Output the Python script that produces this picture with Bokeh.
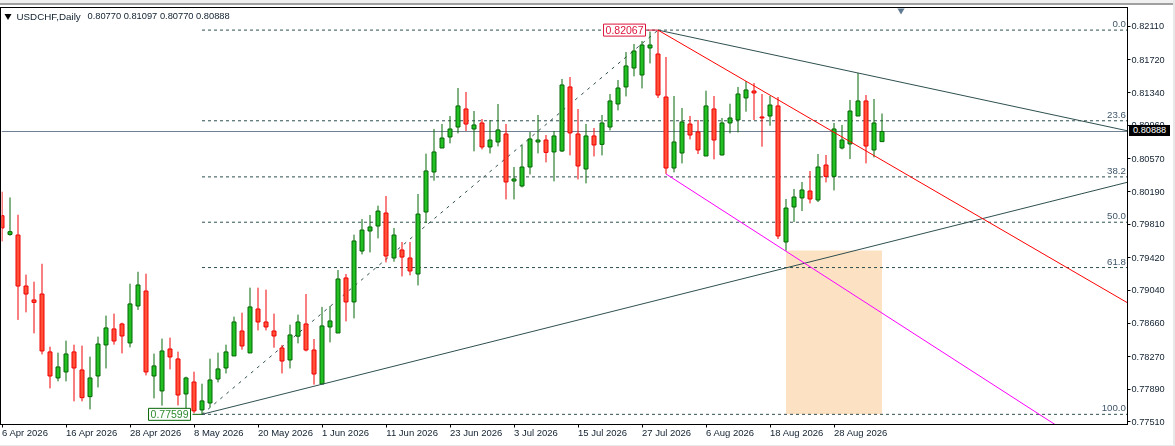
from bokeh.plotting import figure
from bokeh.embed import file_html
from bokeh.resources import INLINE
from bokeh.layouts import column
from bokeh.models import (ColumnDataSource, Range1d, FixedTicker, LinearAxis, Label, Div,
                          PrintfTickFormatter)
from bokeh.core.properties import value

open_ = [.79909,.79691,.79684,.79091,.78929,.78998,.78325,.78022,.78092,.78325,
         .78115,.77805,.78045,.78406,.78592,.78650,.78429,.78859,.79033,.78045,
         .77871,.78359,.78243,.77836,.77975,.77650,.77731,.78010,.78138,.78278,
         .78568,.78313,.78824,.78673,.78568,.78371,.78231,.78508,.78650,.78347,
         .77952,.78615,.78545,.79185,.78906,.79498,.79731,.79789,.79940,.79417,
         .79510,.79417,.79231,.79952,.80417,.80696,.80824,.80940,.81150,.80917,
         .80987,.80708,.80766,.80859,.80312,.80254,.80475,.80766,.80789,.80650,
         .80661,.81406,.80859,.80452,.80836,.80738,.80940,.81208,.81406,.81626,
         .81545,.81859,.81789,.81289,.80463,.80638,.80975,.80882,.80603,.81150,
         .80615,.80987,.81022,.81278,.81359,.81057,.81068,.81185,.79603,.80010,
         .80115,.80196,.80091,.80498,.80366,.80696,.80743,.81068,.81243,.80673,
         .80770]
high = [.80188,.80121,.79920,.79223,.79141,.79350,.78386,.78316,.78456,.78409,
        .78398,.78270,.78502,.78747,.78770,.78665,.79118,.79257,.79234,.78305,
        .78479,.78491,.78328,.78037,.78095,.77955,.78246,.78316,.78409,.78735,
        .78781,.79072,.79072,.79049,.78770,.78406,.78642,.78758,.78998,.78475,
        .78848,.78859,.79277,.79231,.79688,.79870,.79917,.80025,.80138,.79766,
        .79603,.79603,.80161,.80630,.80917,.80975,.81068,.81394,.81347,.81126,
        .81033,.81022,.81208,.80975,.80475,.80731,.80882,.81080,.80847,.80894,
        .81499,.81522,.81150,.80975,.80929,.81080,.81324,.81487,.81812,.81905,
        .81940,.82050,.82067,.81754,.81301,.81161,.81068,.81022,.81362,.81301,
        .81045,.81211,.81406,.81475,.81452,.81324,.81301,.81289,.80103,.80219,
        .80301,.80429,.80626,.80615,.80987,.80964,.81254,.81568,.81312,.81266,
        .81097]
low = [.79610,.79676,.78697,.78785,.78541,.78296,.77901,.77983,.77983,.77750,
       .77750,.77657,.77912,.78133,.78409,.78308,.78378,.78813,.78052,.77785,
       .77700,.78122,.77703,.77661,.77611,.77599,.77680,.77971,.78075,.78278,
       .78351,.78313,.78575,.78575,.78374,.78075,.78133,.78424,.78331,.77944,
       .77952,.78436,.78545,.78680,.78715,.79459,.79482,.79645,.79366,.79374,
       .79203,.79215,.79098,.79824,.80316,.80696,.80750,.80866,.80894,.80657,
       .80680,.80633,.80715,.80098,.80098,.80238,.80389,.80633,.80529,.80308,
       .80650,.80610,.80331,.80285,.80598,.80610,.80901,.81133,.81296,.81529,
       .81389,.81680,.81278,.80394,.80413,.80517,.80796,.80626,.80603,.80564,
       .80610,.80866,.80878,.81118,.81022,.80711,.80955,.79638,.79502,.79836,
       .79963,.80052,.80068,.80296,.80203,.80680,.80568,.81068,.80517,.80587,
       .80770]
close = [.79766,.79723,.79091,.78998,.78901,.78336,.78045,.78150,.78301,.78138,
         .77793,.78022,.78417,.78604,.78452,.78510,.78883,.79103,.78092,.78162,
         .78336,.78266,.77824,.78022,.77639,.77755,.77999,.78127,.78325,.78673,
         .78394,.78848,.78673,.78615,.78510,.78219,.78522,.78673,.78347,.78068,
         .78627,.78685,.79173,.78906,.79615,.79742,.79778,.79963,.79440,.79684,
         .79428,.79266,.79928,.80429,.80650,.80812,.80917,.81185,.80975,.80964,
         .80708,.80789,.80906,.80301,.80336,.80475,.80801,.80789,.80645,.80836,
         .81429,.80871,.80487,.80836,.80731,.80987,.81243,.81394,.81650,.81824,
         .81894,.81894,.81312,.80463,.80766,.80999,.80847,.80673,.81185,.80789,
         .80987,.81045,.81324,.81371,.81336,.81045,.81196,.79673,.79998,.80126,
         .80208,.80103,.80475,.80366,.80917,.80789,.81126,.81243,.80719,.80987,
         .80888]

x_tick_pos = [0, 8, 16, 24, 32, 40, 48, 56, 64, 72, 80, 88, 96, 104]
x_tick_labels = ["6 Apr 2026", "16 Apr 2026", "28 Apr 2026", "8 May 2026", "20 May 2026",
                 "1 Jun 2026", "11 Jun 2026", "23 Jun 2026", "3 Jul 2026", "15 Jul 2026",
                 "27 Jul 2026", "6 Aug 2026", "18 Aug 2026", "28 Aug 2026"]
y_ticks = [.82110, .81720, .81340, .80960, .80570, .80190, .79810, .79420,
           .79040, .78660, .78270, .77890, .77510]

swing_low_bar, swing_low = 25, .77599
swing_high_bar, swing_high = 82, .82067
fib_names = ["0.0", "23.6", "38.2", "50.0", "61.8", "100.0"]
fib_pct = [0.0, 23.6, 38.2, 50.0, 61.8, 100.0]
last_price = .80888

FONT = "Liberation Sans"
DARK = "#2F4F4F"
SCALE = 8600.0
DATE_SIZE = 9.5
EM = {" ": .278, "A": .667, "p": .556, "r": .333, "M": .833, "a": .556, "y": .5, "J": .5,
      "u": .556, "n": .556, "l": .222, "g": .556}


def px(x):
    return (x - 1.5) / 8.0


def py(y):
    return 0.824088 - (y - 0.2) / SCALE


def text_width_bars(txt):
    return sum(EM.get(c, .556) for c in txt) * DATE_SIZE / 8.0


RIGHT_BAR = px(1127)

p = figure(width=1175, height=446, output_backend="svg", toolbar_location=None,
           x_range=Range1d(px(1), RIGHT_BAR), y_range=Range1d(py(424), py(8)),
           min_border_left=1, min_border_right=48, min_border_top=8, min_border_bottom=22,
           x_axis_location=None, y_axis_location=None)
p.styles = {"position": "fixed", "left": "0px", "top": "0px"}
p.grid.visible = False
p.background_fill_color = "white"
p.border_fill_color = "white"
p.outline_line_color = None

tick_axis = LinearAxis(ticker=FixedTicker(ticks=x_tick_pos),
                       major_label_overrides={t: "" for t in x_tick_pos})
tick_axis.major_tick_in = 0
tick_axis.major_tick_out = 3
tick_axis.minor_tick_line_color = None
tick_axis.axis_line_color = None
tick_axis.major_tick_line_color = "black"
tick_axis.major_label_standoff = 0
tick_axis.major_label_text_font_size = "1px"
p.add_layout(tick_axis, "below")

# date labels start at their tick, so this axis sets each label half its width to the right
label_pos = [pos + text_width_bars(txt) / 2 for pos, txt in zip(x_tick_pos, x_tick_labels)]
date_axis = LinearAxis(ticker=FixedTicker(ticks=label_pos),
                       major_label_overrides=dict(zip(label_pos, x_tick_labels)))
date_axis.major_tick_in = 0
date_axis.major_tick_out = 0
date_axis.minor_tick_line_color = None
date_axis.axis_line_color = None
date_axis.major_tick_line_color = None
date_axis.major_label_standoff = -1
date_axis.major_label_text_font = FONT
date_axis.major_label_text_font_size = f"{DATE_SIZE}px"
date_axis.major_label_text_color = "#102030"
p.add_layout(date_axis, "below")

yaxis = LinearAxis(ticker=FixedTicker(ticks=y_ticks), formatter=PrintfTickFormatter(format="%.5f"))
yaxis.major_tick_in = 0
yaxis.major_tick_out = 3
yaxis.minor_tick_line_color = None
yaxis.axis_line_color = None
yaxis.major_tick_line_color = "black"
yaxis.major_label_standoff = 1
yaxis.major_label_text_font = FONT
yaxis.major_label_text_font_size = "9.2px"
yaxis.major_label_text_color = "#102030"
p.add_layout(yaxis, "right")

p.quad(left=[98], right=[110], top=[py(250)], bottom=[swing_low],
       fill_color="#FDE1C3", line_color=None)

levels = [swing_high - (swing_high - swing_low) * v / 100.0 for v in fib_pct]
p.segment(x0=[swing_low_bar] * 6, x1=[RIGHT_BAR] * 6, y0=levels, y1=levels,
          line_color=DARK, line_width=1, line_dash="3 3")
p.text(x=[RIGHT_BAR - 0.2] * 6, y=levels, text=fib_names, text_align="right",
       text_baseline="bottom", y_offset=-3, text_font=value(FONT), text_font_size="9.7px",
       text_color="#40566a")
p.line(x=[swing_low_bar, swing_high_bar], y=[swing_low, swing_high],
       line_color=DARK, line_width=1, line_dash="3 5")

p.line(x=[px(1), RIGHT_BAR], y=[last_price, last_price], line_color="#708090", line_width=1)

idx = list(range(len(close)))
up = [c >= o for o, c in zip(open_, close)]
src = ColumnDataSource(dict(
    x=idx, high=high, low=low,
    top=[max(o, c) for o, c in zip(open_, close)],
    bottom=[min(o, c) for o, c in zip(open_, close)],
    edge=["#056605" if u else "#F00000" for u in up],
    fill=["#22C022" if u else "#FF5038" for u in up],
))
p.segment(x0="x", x1="x", y0="low", y1="high", line_color="edge", line_width=1, source=src)
p.vbar(x="x", width=0.5, top="top", bottom="bottom", fill_color="fill", line_color="edge",
       line_width=1, source=src)

p.line(x=[swing_high_bar, RIGHT_BAR], y=[swing_high, .80896], line_color=DARK, line_width=1)
p.line(x=[swing_low_bar, RIGHT_BAR], y=[swing_low, .80298], line_color=DARK, line_width=1)
p.line(x=[swing_high_bar, RIGHT_BAR], y=[swing_high, .78896], line_color="#FF0000", line_width=1)
p.line(x=[83, RIGHT_BAR], y=[.80394, .76938], line_color="#FF00FF", line_width=1)

p.line(x=[px(192), swing_low_bar], y=[swing_low, swing_low], line_color="#056605", line_width=1)
p.line(x=[px(647), swing_high_bar], y=[swing_high, swing_high], line_color="#DC143C", line_width=1)
p.add_layout(Label(x=px(190), y=swing_low, text="0.77599", text_align="right", text_baseline="middle",
                   text_font=FONT, text_font_size="10.5px", text_color="#2E8B2E",
                   background_fill_color="white", border_line_color="#056605", padding=2))
p.add_layout(Label(x=px(645), y=swing_high, text="0.82067", text_align="right", text_baseline="middle",
                   text_font=FONT, text_font_size="10.5px", text_color="#DC143C",
                   background_fill_color="white", border_line_color="#DC143C", padding=2))

p.add_layout(Label(x=px(16), y=py(15.5), text="USDCHF,Daily", text_baseline="middle",
                   text_font=FONT, text_font_size="9.8px", text_color="#102030"))
p.add_layout(Label(x=px(87), y=py(15.5), text="0.80770 0.81097 0.80770 0.80888", text_baseline="middle",
                   text_font=FONT, text_font_size="9.3px", text_color="#102030"))
p.scatter(x=[px(7.5)], y=[py(15.5)], marker="inverted_triangle", size=7, fill_color="black", line_color=None)
p.scatter(x=[px(900.5)], y=[py(9.5)], marker="inverted_triangle", size=8, fill_color="#5F7A90", line_color=None)


def box(left, top, w, h, text="", **extra):
    st = {"position": "fixed", "left": f"{left}px", "top": f"{top}px", "width": f"{w}px",
          "height": f"{h}px", "box-sizing": "border-box", "pointer-events": "none"}
    st.update(extra)
    return Div(text=text, styles=st, margin=0)


chrome = [
    box(0, 0, 1175, 3, background="#F0F0F0"),
    box(0, 3, 1175, 2, background="#A0A0A0"),
    box(0, 7, 1128, 418, border="1px solid black"),
    box(1173, 0, 2, 446, background="#E8E8E8"),
    box(0, 445, 1175, 1, background="#E8E8E8"),
    box(1129, 125, 41, 11, text=f"{last_price:.5f}", background="black", color="white",
        **{"font-family": FONT, "font-size": "9.2px", "line-height": "11px", "padding-left": "4px"}),
]
page = column(p, *chrome)

open("out.html", "w").write(file_html(page, INLINE))
